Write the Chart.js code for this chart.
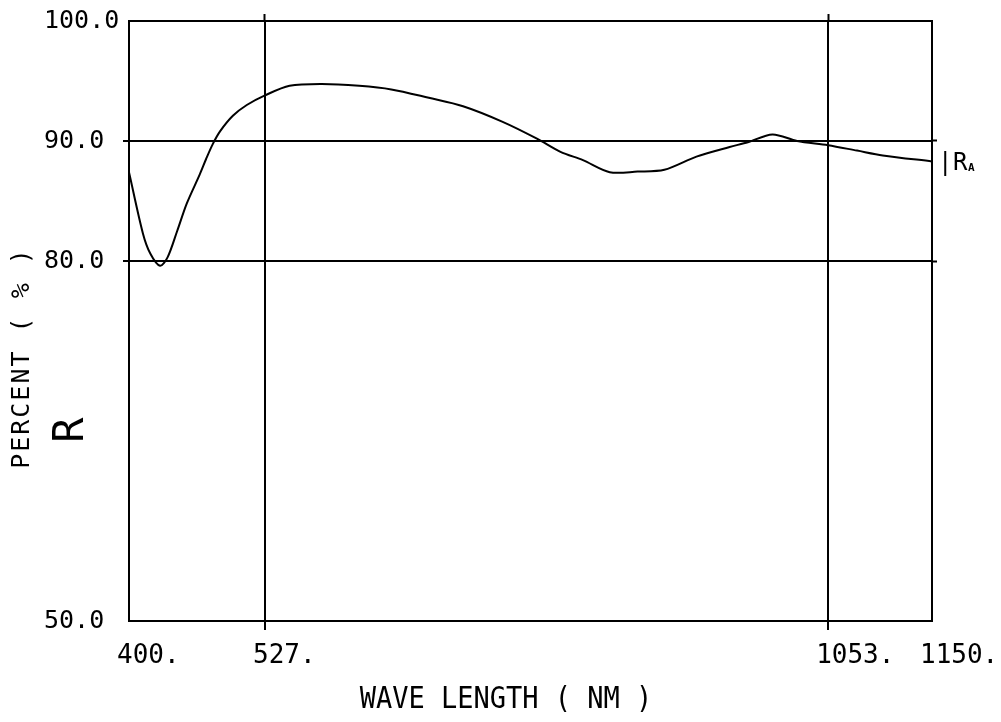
<!DOCTYPE html>
<html lang="en">
<head>
    <meta charset="UTF-8">
    <title>PERCENT (%) R - WAVE LENGTH (NM)</title>
    <script src="https://cdn.jsdelivr.net/npm/chart.js@4"></script>
    <style>
        html, body { margin: 0; padding: 0; background: #fff; }
        #wrap { width: 1001px; height: 722px; position: relative; }
    </style>
</head>
<body>
<div id="wrap"><canvas id="chart"></canvas></div>
<script>
    const waveLength = [400, 413, 420, 429, 436, 445, 454, 466, 472, 478, 485, 497, 510, 527, 550, 580, 615, 645, 680, 712, 749, 781, 803, 824, 849, 875, 900, 930, 961, 978, 1001, 1024, 1053, 1080, 1104, 1150];
    const percentR = [87.4, 82.3, 80.6, 79.6, 80.3, 82.5, 84.8, 87.2, 88.5, 89.7, 90.8, 92.1, 93.0, 93.8, 94.6, 94.75, 94.6, 94.3, 93.6, 92.9, 91.6, 90.2, 89.1, 88.4, 87.4, 87.45, 87.6, 88.7, 89.5, 89.9, 90.55, 90.0, 89.65, 89.2, 88.8, 88.3];

    const xTicks = [400, 527, 1053, 1150];
    const xTickLabels = ['400.', '527.', '1053.', '1150.'];
    const yTicks = [50, 80, 90, 100];
    const yTickLabels = ['50.0', '80.0', '90.0', '100.0'];

    const xTitle = 'WAVE LENGTH ( NM )';
    const yTitle = 'PERCENT ( % )';
    const seriesName = 'R';

    const FONT = '"DejaVu Sans Mono", "Liberation Mono", monospace';

    function spaced(ctx, px) {
        if ('letterSpacing' in ctx) ctx.letterSpacing = px + 'px';
    }

    // axis titles and the R / R_A marks
    const plotterText = {
        id: 'plotterText',
        afterDraw(chart) {
            const {ctx, chartArea, scales} = chart;
            const y = scales.y;
            ctx.save();
            ctx.fillStyle = '#000';
            ctx.textBaseline = 'middle';
            ctx.textAlign = 'center';

            ctx.save();
            ctx.translate(506, chartArea.bottom + 79);
            ctx.scale(0.9, 1);
            ctx.font = '30px ' + FONT;
            spaced(ctx, 0);
            ctx.fillText(xTitle, 0, 0);
            ctx.restore();

            ctx.save();
            ctx.translate(22, 358);
            ctx.rotate(-Math.PI / 2);
            ctx.font = '25px ' + FONT;
            spaced(ctx, 2);
            ctx.fillText(yTitle, 0, 0);
            ctx.restore();

            ctx.save();
            ctx.translate(72, 430);
            ctx.rotate(-Math.PI / 2);
            ctx.font = '42px ' + FONT;
            spaced(ctx, 0);
            ctx.fillText(seriesName, 0, 0);
            ctx.restore();

            // end-of-line tag
            const endY = y.getPixelForValue(percentR[percentR.length - 1]);
            spaced(ctx, 0);
            ctx.textAlign = 'left';
            ctx.font = '24px ' + FONT;
            ctx.fillText('|', chartArea.right + 6, endY + 2);
            ctx.fillText('R', chartArea.right + 21, endY + 2);
            ctx.font = 'bold 11px ' + FONT;
            ctx.fillText('A', chartArea.right + 36, endY + 7);
            ctx.restore();
        }
    };

    const edgeTick = (list) => (c) => (c.tick && (c.tick.value === list[0] || c.tick.value === list[list.length - 1])) ? 'rgba(0,0,0,0)' : '#000';

    new Chart(document.getElementById('chart'), {
        type: 'line',
        data: {
            datasets: [{
                label: 'R',
                data: waveLength.map((w, i) => ({x: w, y: percentR[i]})),
                borderColor: '#000',
                borderWidth: 2,
                pointRadius: 0,
                fill: false,
                tension: 0.3
            }]
        },
        options: {
            responsive: true,
            maintainAspectRatio: false,
            animation: false,
            layout: { padding: { left: 44, top: 0, right: 0, bottom: 0 } },
            plugins: { legend: { display: false }, tooltip: { enabled: false } },
            scales: {
                x: {
                    type: 'linear',
                    position: 'bottom',
                    min: 400, max: 1150,
                    afterBuildTicks: (s) => { s.ticks = xTicks.map(v => ({value: v})); },
                    afterFit: (s) => { s.height = 101; s.paddingLeft = 0; s.paddingRight = 0; },
                    ticks: {
                        align: 'start',
                        labelOffset: -12,
                        padding: 11,
                        autoSkip: false,
                        maxRotation: 0,
                        color: '#000',
                        font: { family: FONT, size: 26 },
                        callback: (v) => xTickLabels[xTicks.indexOf(v)]
                    },
                    grid: { color: '#000', lineWidth: 2, tickLength: 9, tickWidth: 2, tickColor: edgeTick(xTicks) },
                    border: { display: true, color: '#000', width: 2 }
                },
                x2: {
                    type: 'linear',
                    position: 'top',
                    min: 400, max: 1150,
                    afterBuildTicks: (s) => { s.ticks = xTicks.map(v => ({value: v})); },
                    afterFit: (s) => { s.height = 21; s.paddingLeft = 0; s.paddingRight = 0; },
                    ticks: { display: false },
                    grid: { drawOnChartArea: false, tickLength: 7, tickWidth: 2, tickColor: edgeTick(xTicks) },
                    border: { display: true, color: '#000', width: 2 }
                },
                y: {
                    type: 'linear',
                    position: 'left',
                    min: 50, max: 100,
                    afterBuildTicks: (s) => { s.ticks = yTicks.map(v => ({value: v})); },
                    afterFit: (s) => { s.width = 85; s.paddingTop = 0; s.paddingBottom = 0; },
                    ticks: {
                        crossAlign: 'far',
                        color: '#000',
                        font: { family: FONT, size: 25 },
                        callback: (v) => yTickLabels[yTicks.indexOf(v)]
                    },
                    grid: { color: '#000', lineWidth: 2, tickLength: 6, tickWidth: 2, tickColor: edgeTick(yTicks) },
                    border: { display: true, color: '#000', width: 2 }
                },
                y2: {
                    type: 'linear',
                    position: 'right',
                    min: 50, max: 100,
                    afterBuildTicks: (s) => { s.ticks = yTicks.map(v => ({value: v})); },
                    afterFit: (s) => { s.width = 69; s.paddingTop = 0; s.paddingBottom = 0; },
                    ticks: { display: false },
                    grid: { drawOnChartArea: false, tickLength: 5, tickWidth: 2, tickColor: edgeTick(yTicks) },
                    border: { display: true, color: '#000', width: 2 }
                }
            }
        },
        plugins: [plotterText]
    });
</script>
</body>
</html>
